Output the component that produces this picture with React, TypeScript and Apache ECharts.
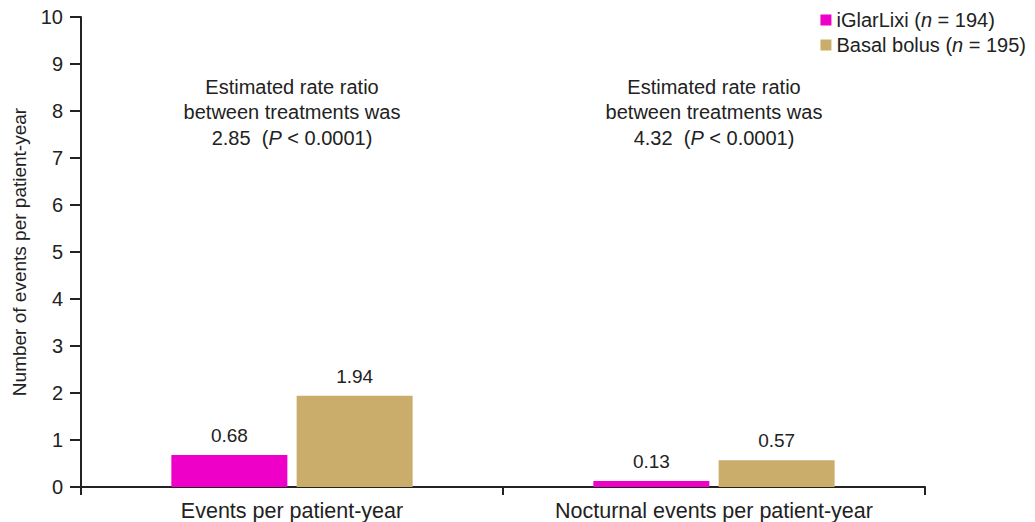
import React, { useEffect, useRef } from "react";
import * as echarts from "echarts";

const categories = ["Events per patient-year", "Nocturnal events per patient-year"];
const iGlarLixi = [0.68, 0.13];
const basalBolus = [1.94, 0.57];
const seriesNames = ["iGlarLixi", "Basal bolus"];
const seriesN = [194, 195];
const rateRatios = ["2.85", "4.32"];
const yTicks = { min: 0, max: 10, interval: 1 };

const FONT = "Liberation Sans, Arial, sans-serif";

export default function App() {
  const ref = useRef<HTMLDivElement>(null);
  useEffect(() => {
    if (!ref.current) return;
    const chart = echarts.init(ref.current, null, { renderer: "svg" });
    const annotations = rateRatios.map((r, i) => ({
      type: "text",
      x: [292, 714][i],
      y: 74,
      style: {
        text: "Estimated rate ratio\nbetween treatments was\n" + r + "  ({i|P} < 0.0001)",
        font: `20px ${FONT}`,
        fill: "#222",
        align: "center",
        lineHeight: 25.5,
        rich: {
          i: { fontStyle: "italic", fontSize: 20, fontFamily: FONT, fill: "#222", lineHeight: 25.5 },
        },
      },
    }));
    chart.setOption({
      animation: false,
      textStyle: { fontFamily: FONT },
      grid: { left: 81, right: 110, top: 17, bottom: 35 },
      legend: {
        orient: "vertical",
        right: 4,
        top: 5,
        itemWidth: 11,
        itemHeight: 11,
        itemGap: 5,
        icon: "rect",
        textStyle: {
          fontSize: 20,
          color: "#222",
          fontFamily: FONT,
          rich: { i: { fontStyle: "italic", fontSize: 20, color: "#222", fontFamily: FONT } },
        },
        formatter: (name: string) => {
          const idx = seriesNames.indexOf(name);
          return `${name} ({i|n} = ${seriesN[idx]})`;
        },
        data: seriesNames,
      },
      xAxis: {
        type: "category",
        data: categories,
        axisLine: { lineStyle: { color: "#222", width: 2 } },
        axisTick: { show: true, length: 8, lineStyle: { color: "#222", width: 2 } },
        axisLabel: { fontSize: 21.5, color: "#222", margin: 13, fontFamily: FONT },
      },
      yAxis: {
        type: "value",
        min: yTicks.min,
        max: yTicks.max,
        interval: yTicks.interval,
        name: "Number of events per patient-year",
        nameLocation: "middle",
        nameGap: 52,
        nameTextStyle: { fontSize: 19, color: "#222", fontFamily: FONT },
        axisLine: { show: true, lineStyle: { color: "#222", width: 2 } },
        axisTick: { show: true, length: 11, lineStyle: { color: "#222", width: 2 } },
        axisLabel: { fontSize: 20, color: "#222", margin: 18, fontFamily: FONT },
        splitLine: { show: false },
      },
      series: [
        {
          name: seriesNames[0],
          type: "bar",
          data: iGlarLixi,
          barWidth: 116,
          barGap: "8%",
          itemStyle: { color: "#EE00C8" },
          label: { show: true, position: "top", distance: 10, fontSize: 19, color: "#222", fontFamily: FONT },
        },
        {
          name: seriesNames[1],
          type: "bar",
          data: basalBolus,
          barWidth: 116,
          itemStyle: { color: "#CBAD6B" },
          label: { show: true, position: "top", distance: 10, fontSize: 19, color: "#222", fontFamily: FONT },
        },
      ],
      graphic: annotations,
    });
    return () => chart.dispose();
  }, []);
  return <div ref={ref} style={{ width: 1035, height: 522, position: "absolute", left: 0, top: 0, background: "#fff" }} />;
}
